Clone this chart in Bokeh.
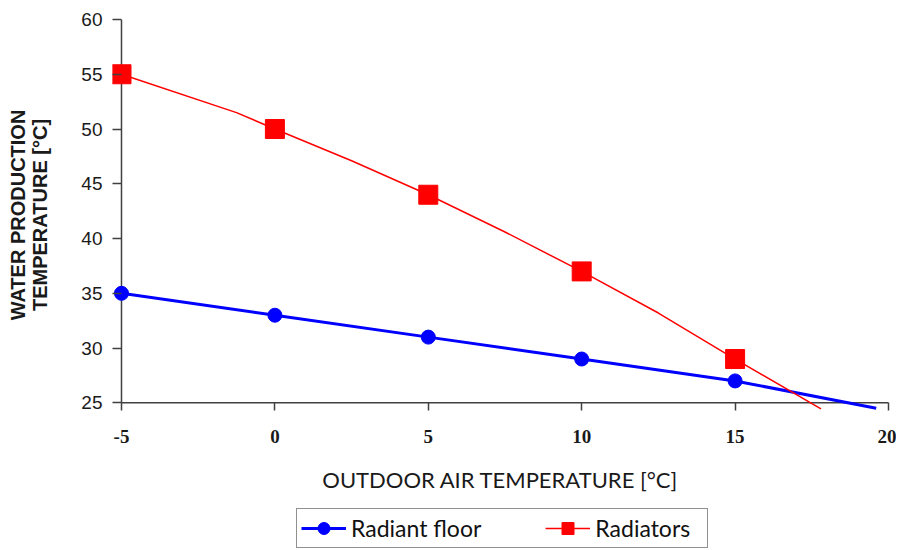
from bokeh.plotting import figure
from bokeh.models import Range1d, Legend, LegendItem, FixedTicker
from bokeh.layouts import column
from bokeh.embed import file_html
from bokeh.resources import INLINE

# ---- data ----
x_pts = [-5, 0, 5, 10, 15]
floor_pts = [35, 33, 31, 29, 27]
rad_pts = [55, 50, 44, 37, 29]

# line paths (as drawn in the picture, incl. extension below 25)
floor_line_x = [-5, 0, 5, 10, 15, 19.6]
floor_line_y = [35, 33, 31, 29, 27, 24.5]
rad_line_x = [-5, -1.25, 0, 2.5, 5, 7.5, 10, 12.5, 15, 17.8]
rad_line_y = [55, 51.5, 50, 47.1, 44, 40.6, 37, 33.2, 29, 24.45]

x_ticks = [-5, 0, 5, 10, 15, 20]
y_ticks = [25, 30, 35, 40, 45, 50, 55, 60]

BLUE = "#0000FF"
RED = "#FF0000"
axis_col = "#404040"

p = figure(width=896, height=500, output_backend="svg", toolbar_location=None,
           x_range=Range1d(-5.293, 20), y_range=Range1d(24.3, 60),
           min_border_left=112, min_border_top=19, min_border_right=8,
           min_border_bottom=90)
p.outline_line_color = None
p.xgrid.visible = False
p.ygrid.visible = False
p.background_fill_color = "white"
p.border_fill_color = "white"

# axis lines (from the tick extents)
p.segment(x0=[x_ticks[0], x_ticks[0]], y0=[y_ticks[0], y_ticks[0]],
          x1=[x_ticks[-1], x_ticks[0]], y1=[y_ticks[0], y_ticks[-1]],
          line_color=axis_col, line_width=1.5)

bl = p.line(floor_line_x, floor_line_y, line_color=BLUE, line_width=3)
bm = p.scatter(x_pts, floor_pts, marker="circle", size=14, fill_color=BLUE,
               line_color=BLUE)
rl = p.line(rad_line_x, rad_line_y, line_color=RED, line_width=1.5)
rm = p.scatter(x_pts, rad_pts, marker="square", size=19, fill_color=RED,
               line_color=RED)

xa = p.xaxis[0]
xa.ticker = FixedTicker(ticks=x_ticks)
xa.major_label_overrides = {-5: "-5"}
xa.axis_line_color = None
xa.major_tick_line_color = axis_col
xa.major_tick_line_width = 1.5
xa.major_tick_in = 8
xa.major_tick_out = 0
xa.minor_tick_line_color = None
xa.major_label_standoff = 19
xa.major_label_text_font = "Liberation Serif"
xa.major_label_text_font_style = "bold"
xa.major_label_text_font_size = "19px"
xa.major_label_text_color = "#1a1a1a"
xa.axis_label = "OUTDOOR AIR TEMPERATURE [°C]"
xa.axis_label_text_font = "Lato"
xa.axis_label_text_font_style = "normal"
xa.axis_label_text_font_size = "22px"
xa.axis_label_text_color = "#1a1a1a"
xa.axis_label_standoff = 20

ya = p.yaxis[0]
ya.ticker = FixedTicker(ticks=y_ticks)
ya.axis_line_color = None
ya.major_tick_line_color = axis_col
ya.major_tick_line_width = 1.5
ya.major_tick_in = 9
ya.major_tick_out = 0
ya.minor_tick_line_color = None
ya.major_label_standoff = 10
ya.major_label_text_font = "Liberation Sans"
ya.major_label_text_font_size = "19px"
ya.major_label_text_color = "#1a1a1a"
ya.axis_label = "WATER PRODUCTION\nTEMPERATURE [°C]"
ya.axis_label_text_font = "Liberation Sans"
ya.axis_label_text_font_style = "bold"
ya.axis_label_text_font_size = "20px"
ya.axis_label_text_line_height = 1.0
ya.axis_label_text_color = "#1a1a1a"
ya.axis_label_standoff = 27

# legend strip below the chart
pl = figure(width=896, height=48, output_backend="svg", toolbar_location=None,
            x_range=Range1d(0, 1), y_range=Range1d(0, 1), min_border=0)
pl.axis.visible = False
pl.grid.visible = False
pl.outline_line_color = None
lbl = pl.line([5, 6], [5, 6], line_color=BLUE, line_width=3)
lbm = pl.scatter([5], [5], marker="circle", fill_color=BLUE, line_color=BLUE)
lrl = pl.line([5, 6], [5, 6], line_color=RED, line_width=1.5)
lrm = pl.scatter([5], [5], marker="square", fill_color=RED, line_color=RED)

legend = Legend(items=[LegendItem(label="Radiant floor", renderers=[lbl, lbm]),
                       LegendItem(label="Radiators", renderers=[lrl, lrm])],
                orientation="horizontal", location=(184, 0),
                glyph_width=45, glyph_height=30, spacing=64, padding=4,
                label_standoff=5, label_width=108, label_text_font="Lato",
                label_text_font_size="23px", label_text_color="#111111",
                border_line_color="#222222", border_line_width=1.5,
                margin=0, background_fill_color="white")
pl.add_layout(legend, "center")

layout = column(p, pl, spacing=0)
open("out.html", "w").write(file_html(layout, INLINE))
